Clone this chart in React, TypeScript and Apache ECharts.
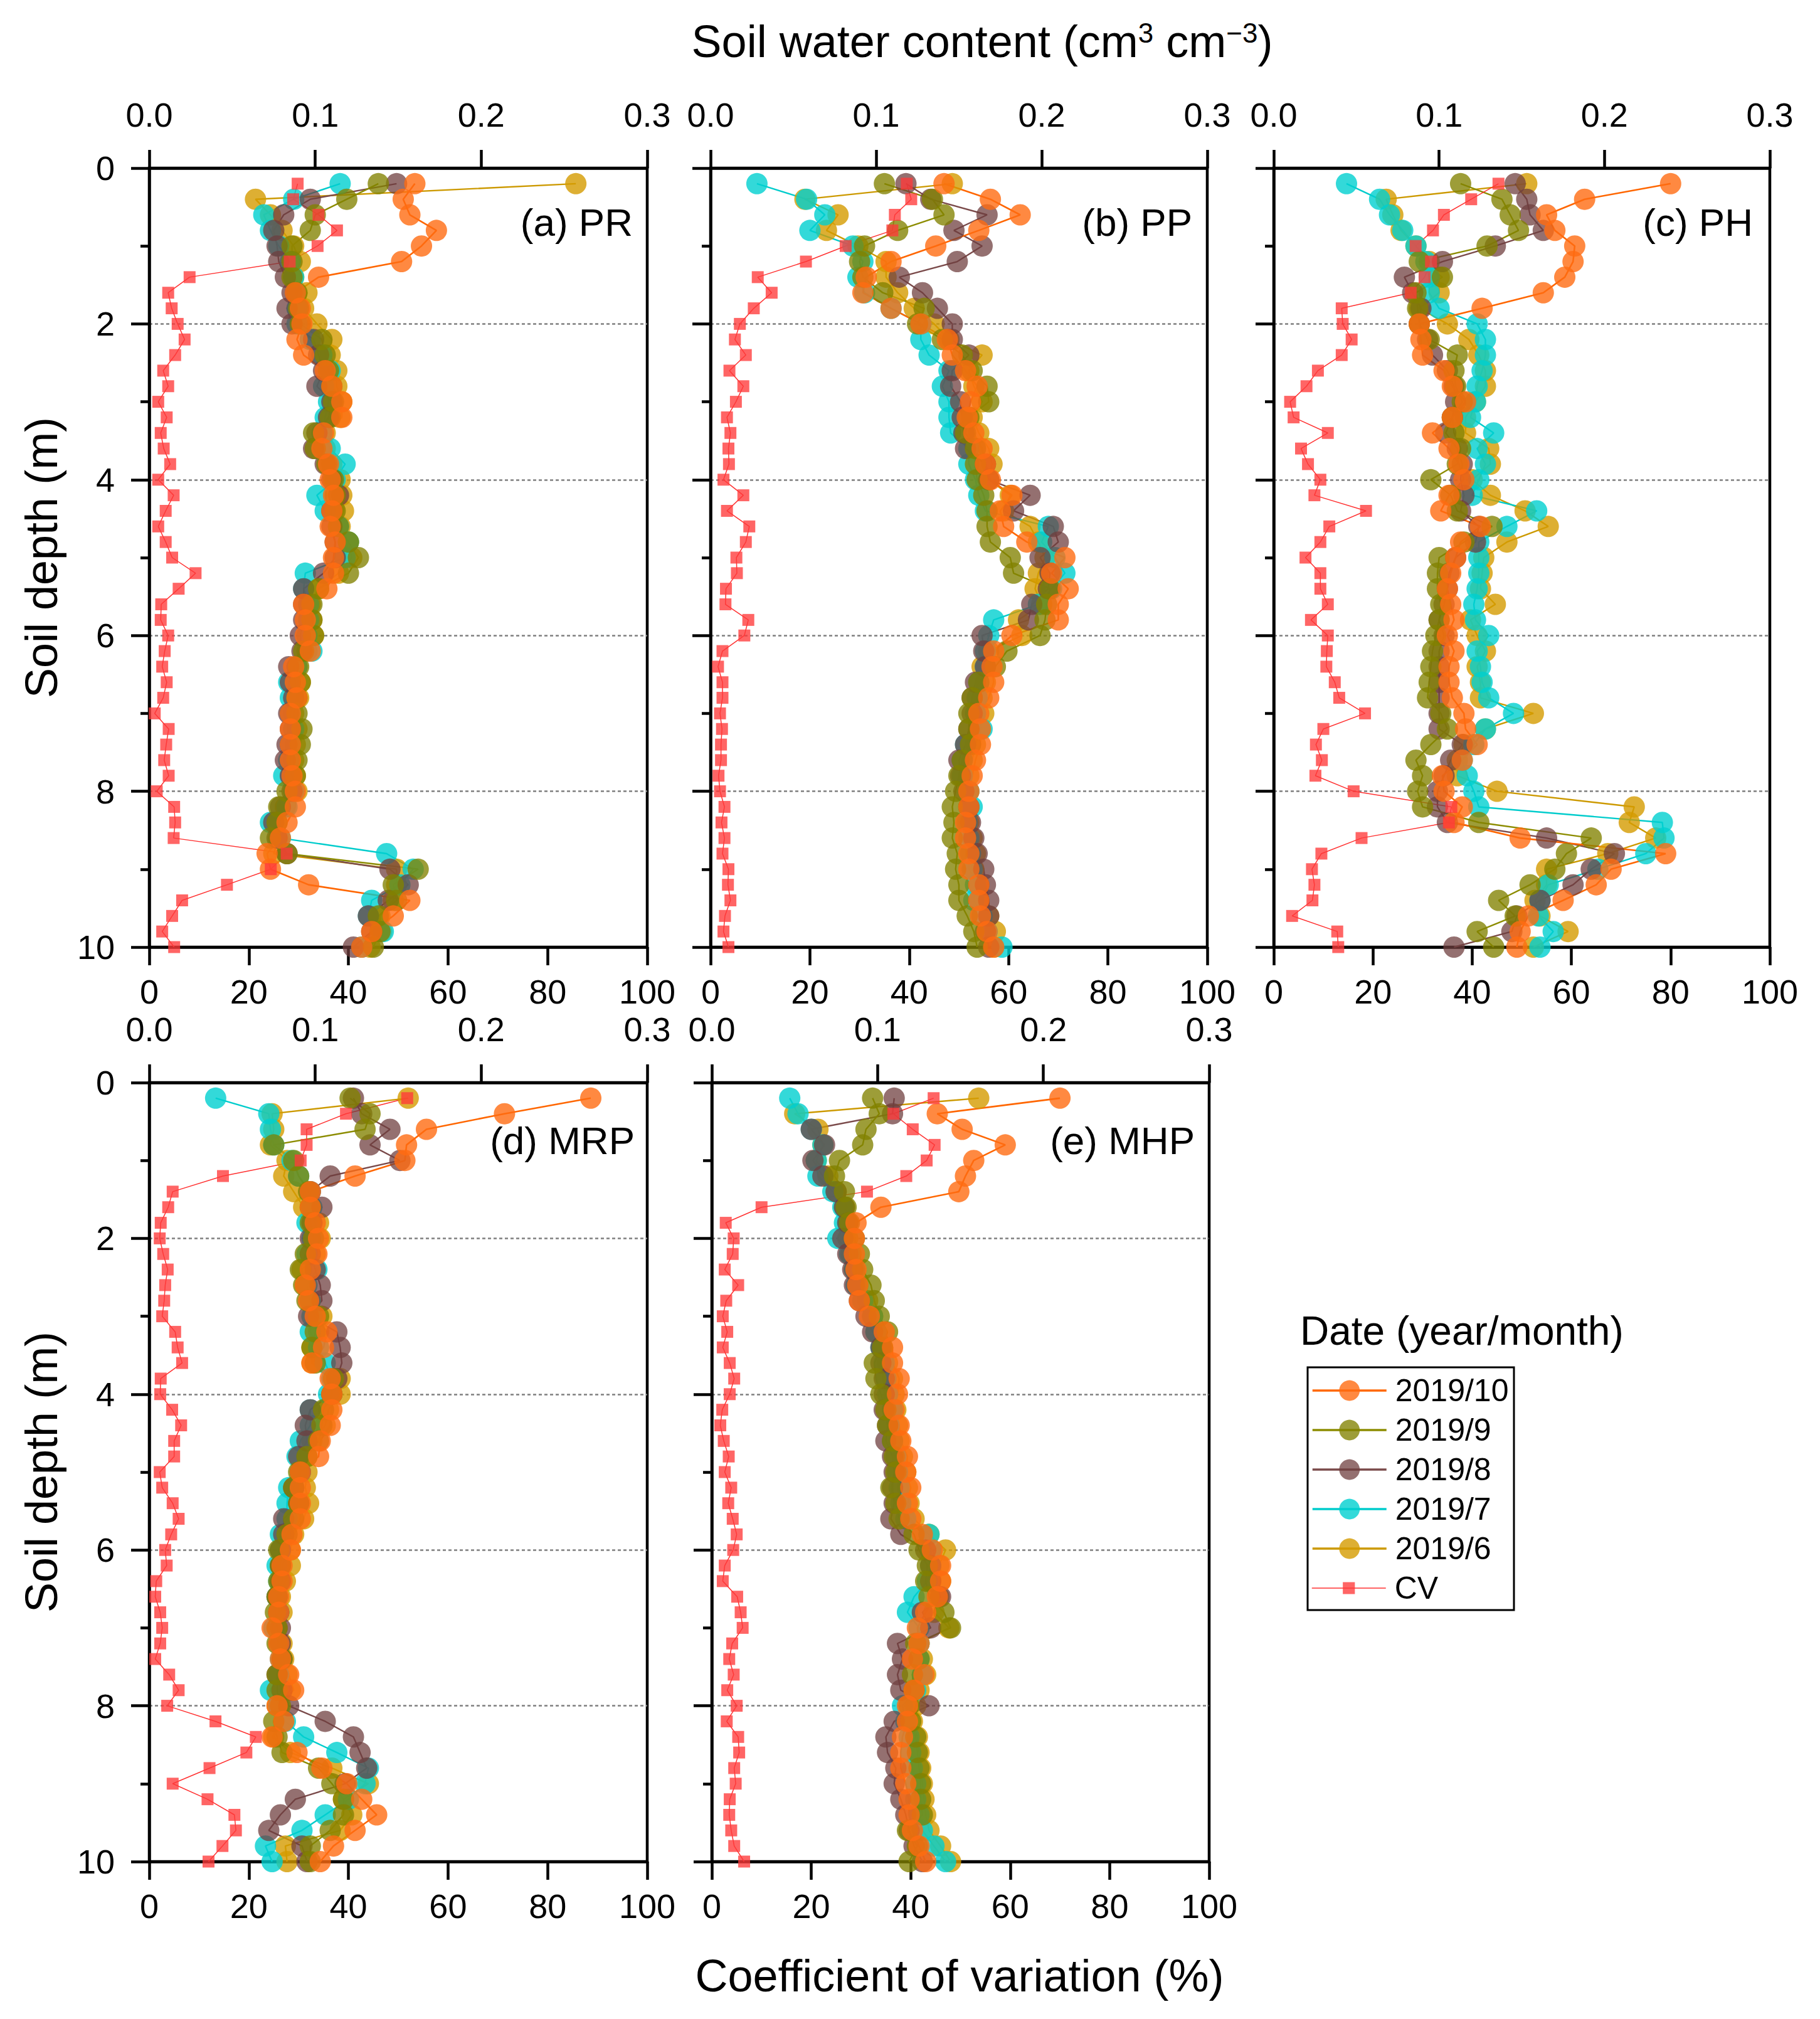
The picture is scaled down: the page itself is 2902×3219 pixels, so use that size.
import { useEffect, useRef } from "react";
import * as echarts from "echarts";

// ── Depth steps (m) ───────────────────────────────────────────────────────────
const DEPTHS = [
  0.2, 0.4, 0.6, 0.8, 1.0, 1.2, 1.4, 1.6, 1.8, 2.0,
  2.2, 2.4, 2.6, 2.8, 3.0, 3.2, 3.4, 3.6, 3.8, 4.0,
  4.2, 4.4, 4.6, 4.8, 5.0, 5.2, 5.4, 5.6, 5.8, 6.0,
  6.2, 6.4, 6.6, 6.8, 7.0, 7.2, 7.4, 7.6, 7.8, 8.0,
  8.2, 8.4, 8.6, 8.8, 9.0, 9.2, 9.4, 9.6, 9.8, 10.0,
];

// ── (a) PR ────────────────────────────────────────────────────────────────────
const PR_OCT = [
  0.160, 0.153, 0.157, 0.173, 0.164, 0.152, 0.102, 0.088, 0.091, 0.092,
  0.089, 0.093, 0.106, 0.110, 0.116, 0.116, 0.105, 0.104, 0.108, 0.109,
  0.111, 0.110, 0.109, 0.112, 0.111, 0.111, 0.107, 0.093, 0.094, 0.094,
  0.097, 0.087, 0.088, 0.089, 0.085, 0.085, 0.085, 0.085, 0.086, 0.088,
  0.088, 0.083, 0.079, 0.071, 0.073, 0.096, 0.157, 0.147, 0.134, 0.128,
];
const PR_SEP = [
  0.138, 0.119, 0.100, 0.097, 0.086, 0.086, 0.086, 0.089, 0.090, 0.091,
  0.104, 0.106, 0.108, 0.110, 0.111, 0.109, 0.099, 0.100, 0.107, 0.111,
  0.112, 0.112, 0.114, 0.120, 0.126, 0.120, 0.102, 0.098, 0.098, 0.099,
  0.093, 0.090, 0.091, 0.089, 0.089, 0.092, 0.091, 0.089, 0.088, 0.083,
  0.078, 0.077, 0.073, 0.083, 0.162, 0.147, 0.149, 0.138, 0.139, 0.135,
];
const PR_AUG = [
  0.149, 0.097, 0.081, 0.075, 0.077, 0.078, 0.082, 0.086, 0.083, 0.086,
  0.099, 0.102, 0.105, 0.101, 0.110, 0.108, 0.101, 0.099, 0.106, 0.110,
  0.114, 0.110, 0.110, 0.112, 0.112, 0.105, 0.093, 0.093, 0.093, 0.091,
  0.092, 0.084, 0.085, 0.087, 0.084, 0.085, 0.083, 0.082, 0.085, 0.086,
  0.079, 0.075, 0.077, 0.083, 0.145, 0.156, 0.144, 0.132, 0.134, 0.123,
];
const PR_JUL = [
  0.115, 0.087, 0.069, 0.073, 0.078, 0.085, 0.087, 0.088, 0.089, 0.089,
  0.097, 0.104, 0.109, 0.105, 0.108, 0.106, 0.104, 0.109, 0.118, 0.112,
  0.101, 0.106, 0.114, 0.120, 0.118, 0.094, 0.093, 0.096, 0.096, 0.095,
  0.098, 0.089, 0.084, 0.085, 0.085, 0.087, 0.085, 0.084, 0.081, 0.087,
  0.083, 0.073, 0.079, 0.143, 0.159, 0.151, 0.134, 0.132, 0.141, 0.128,
];
const PR_JUN = [
  0.257, 0.064, 0.073, 0.080, 0.087, 0.091, 0.087, 0.095, 0.093, 0.101,
  0.110, 0.109, 0.113, 0.113, 0.116, 0.115, 0.106, 0.106, 0.110, 0.115,
  0.116, 0.117, 0.115, 0.120, 0.122, 0.114, 0.102, 0.097, 0.098, 0.099,
  0.095, 0.089, 0.091, 0.090, 0.087, 0.089, 0.088, 0.087, 0.088, 0.089,
  0.082, 0.077, 0.078, 0.075, 0.149, 0.149, 0.147, 0.139, 0.140, 0.133,
];
const PR_CV = [
  29.8, 28.9, 34.0, 37.7, 33.8, 28.2, 8.1, 3.8, 4.5, 5.7,
  7.1, 5.2, 2.8, 3.8, 1.8, 3.5, 2.3, 2.9, 4.2, 1.8,
  4.9, 3.3, 1.8, 3.3, 4.6, 9.3, 5.9, 2.4, 2.3, 3.8,
  3.1, 2.6, 3.5, 2.8, 1.1, 3.9, 3.4, 3.0, 3.9, 1.5,
  5.0, 5.2, 4.9, 27.6, 24.4, 15.6, 6.6, 4.6, 2.6, 5.0,
];

// ── (b) PP ────────────────────────────────────────────────────────────────────
const PP_OCT = [
  0.141, 0.169, 0.187, 0.162, 0.136, 0.109, 0.094, 0.092, 0.109, 0.127,
  0.143, 0.146, 0.154, 0.161, 0.157, 0.155, 0.159, 0.164, 0.166, 0.169,
  0.182, 0.175, 0.177, 0.191, 0.214, 0.206, 0.216, 0.210, 0.210, 0.182,
  0.171, 0.170, 0.171, 0.168, 0.162, 0.163, 0.163, 0.160, 0.158, 0.156,
  0.156, 0.154, 0.154, 0.156, 0.156, 0.162, 0.162, 0.163, 0.167, 0.171,
];
const PP_SEP = [
  0.105, 0.134, 0.141, 0.113, 0.093, 0.090, 0.092, 0.104, 0.129, 0.125,
  0.140, 0.152, 0.158, 0.167, 0.168, 0.156, 0.154, 0.160, 0.160, 0.161,
  0.165, 0.167, 0.167, 0.169, 0.181, 0.183, 0.205, 0.203, 0.202, 0.199,
  0.179, 0.172, 0.162, 0.158, 0.156, 0.156, 0.157, 0.152, 0.150, 0.148,
  0.146, 0.147, 0.146, 0.149, 0.148, 0.150, 0.150, 0.155, 0.159, 0.161,
];
const PP_AUG = [
  0.118, 0.133, 0.167, 0.147, 0.164, 0.149, 0.114, 0.128, 0.137, 0.146,
  0.146, 0.156, 0.146, 0.145, 0.151, 0.152, 0.153, 0.154, 0.166, 0.168,
  0.193, 0.183, 0.207, 0.210, 0.199, 0.205, 0.204, 0.194, 0.192, 0.164,
  0.165, 0.166, 0.160, 0.158, 0.158, 0.156, 0.154, 0.150, 0.151, 0.153,
  0.156, 0.157, 0.159, 0.161, 0.165, 0.166, 0.168, 0.168, 0.166, 0.168,
];
const PP_JUL = [
  0.028, 0.058, 0.069, 0.060, 0.086, 0.092, 0.089, 0.093, 0.109, 0.127,
  0.127, 0.132, 0.144, 0.140, 0.144, 0.144, 0.145, 0.156, 0.156, 0.160,
  0.162, 0.166, 0.204, 0.200, 0.208, 0.214, 0.206, 0.198, 0.171, 0.168,
  0.166, 0.166, 0.162, 0.161, 0.160, 0.164, 0.154, 0.152, 0.152, 0.156,
  0.158, 0.155, 0.156, 0.157, 0.158, 0.160, 0.159, 0.164, 0.167, 0.176,
];
const PP_JUN = [
  0.146, 0.057, 0.077, 0.070, 0.089, 0.106, 0.106, 0.113, 0.123, 0.135,
  0.144, 0.164, 0.156, 0.159, 0.164, 0.158, 0.162, 0.168, 0.170, 0.168,
  0.181, 0.177, 0.193, 0.198, 0.202, 0.198, 0.196, 0.200, 0.186, 0.188,
  0.168, 0.164, 0.166, 0.164, 0.165, 0.163, 0.160, 0.158, 0.156, 0.156,
  0.156, 0.156, 0.158, 0.160, 0.159, 0.162, 0.162, 0.168, 0.172, 0.171,
];
const PP_CV = [
  39.5, 40.4, 37.1, 36.6, 27.2, 19.2, 9.5, 12.3, 8.7, 5.9,
  4.9, 7.1, 3.8, 6.6, 5.1, 3.3, 4.0, 3.6, 3.7, 2.6,
  6.6, 3.3, 7.8, 7.1, 5.2, 5.3, 3.1, 3.0, 7.6, 6.8,
  2.4, 1.5, 2.4, 2.4, 1.9, 2.3, 2.1, 2.1, 1.6, 1.9,
  2.8, 2.2, 2.8, 2.4, 3.6, 3.5, 4.0, 2.9, 2.6, 3.6,
];

// ── (c) PH ────────────────────────────────────────────────────────────────────
const PH_OCT = [
  0.240, 0.188, 0.165, 0.170, 0.182, 0.181, 0.176, 0.163, 0.126, 0.088,
  0.089, 0.090, 0.103, 0.108, 0.116, 0.108, 0.096, 0.106, 0.112, 0.115,
  0.106, 0.101, 0.125, 0.113, 0.110, 0.107, 0.105, 0.107, 0.109, 0.105,
  0.109, 0.106, 0.106, 0.108, 0.115, 0.116, 0.123, 0.114, 0.102, 0.103,
  0.114, 0.109, 0.149, 0.237, 0.204, 0.195, 0.175, 0.154, 0.149, 0.147,
];
const PH_SEP = [
  0.113, 0.138, 0.143, 0.148, 0.129, 0.088, 0.102, 0.086, 0.087, 0.088,
  0.094, 0.111, 0.109, 0.110, 0.114, 0.108, 0.109, 0.113, 0.111, 0.095,
  0.107, 0.111, 0.132, 0.115, 0.100, 0.099, 0.099, 0.101, 0.100, 0.098,
  0.096, 0.095, 0.094, 0.093, 0.101, 0.105, 0.095, 0.086, 0.090, 0.087,
  0.090, 0.124, 0.192, 0.177, 0.170, 0.155, 0.136, 0.146, 0.123, 0.133,
];
const PH_AUG = [
  0.146, 0.153, 0.155, 0.163, 0.134, 0.102, 0.079, 0.084, 0.089, 0.088,
  0.093, 0.096, 0.105, 0.109, 0.110, 0.108, 0.104, 0.111, 0.114, 0.113,
  0.115, 0.113, 0.124, 0.122, 0.110, 0.106, 0.105, 0.103, 0.100, 0.103,
  0.100, 0.100, 0.100, 0.100, 0.100, 0.100, 0.114, 0.107, 0.103, 0.099,
  0.099, 0.105, 0.165, 0.206, 0.192, 0.181, 0.161, 0.147, 0.144, 0.109,
];
const PH_JUL = [
  0.044, 0.064, 0.070, 0.078, 0.086, 0.092, 0.094, 0.094, 0.100, 0.123,
  0.128, 0.128, 0.126, 0.123, 0.122, 0.119, 0.133, 0.123, 0.128, 0.124,
  0.120, 0.159, 0.141, 0.124, 0.124, 0.124, 0.123, 0.121, 0.122, 0.130,
  0.123, 0.125, 0.126, 0.130, 0.145, 0.128, 0.121, 0.114, 0.117, 0.121,
  0.124, 0.235, 0.236, 0.225, 0.196, 0.166, 0.161, 0.160, 0.169, 0.161,
];
const PH_JUN = [
  0.153, 0.068, 0.072, 0.077, 0.086, 0.094, 0.100, 0.100, 0.088, 0.105,
  0.118, 0.124, 0.128, 0.128, 0.122, 0.116, 0.116, 0.130, 0.131, 0.120,
  0.131, 0.152, 0.166, 0.141, 0.127, 0.126, 0.125, 0.134, 0.119, 0.123,
  0.128, 0.123, 0.125, 0.125, 0.157, 0.128, 0.115, 0.111, 0.111, 0.135,
  0.218, 0.215, 0.231, 0.202, 0.165, 0.165, 0.158, 0.161, 0.178, 0.157,
];
const PH_CV = [
  45.3, 39.8, 34.3, 32.1, 28.6, 31.7, 30.4, 27.6, 13.7, 13.9,
  15.7, 13.7, 8.9, 6.6, 3.3, 4.0, 10.9, 5.5, 6.9, 9.4,
  8.2, 18.6, 11.2, 9.4, 6.4, 9.4, 9.4, 10.9, 7.5, 10.9,
  10.7, 10.6, 12.3, 13.2, 18.4, 10.0, 8.5, 9.7, 8.4, 16.1,
  35.8, 35.3, 17.7, 9.6, 7.7, 8.2, 7.8, 3.7, 12.8, 13.0,
];

// ── (d) MRP ───────────────────────────────────────────────────────────────────
const MRP_OCT = [
  0.266, 0.214, 0.167, 0.155, 0.154, 0.124, 0.097, 0.097, 0.100, 0.102,
  0.101, 0.097, 0.094, 0.096, 0.100, 0.107, 0.105, 0.098, 0.109, 0.110,
  0.110, 0.109, 0.103, 0.102, 0.091, 0.091, 0.091, 0.091, 0.086, 0.085,
  0.080, 0.080, 0.078, 0.078, 0.074, 0.078, 0.079, 0.084, 0.087, 0.077,
  0.081, 0.074, 0.089, 0.104, 0.119, 0.128, 0.137, 0.124, 0.111, 0.103,
];
const MRP_SEP = [
  0.121, 0.133, 0.130, 0.075, 0.087, 0.090, 0.096, 0.097, 0.097, 0.099,
  0.094, 0.091, 0.093, 0.095, 0.102, 0.100, 0.098, 0.100, 0.111, 0.110,
  0.105, 0.104, 0.102, 0.095, 0.090, 0.087, 0.090, 0.087, 0.083, 0.078,
  0.079, 0.078, 0.077, 0.076, 0.077, 0.077, 0.080, 0.077, 0.077, 0.079,
  0.075, 0.077, 0.080, 0.102, 0.110, 0.117, 0.117, 0.109, 0.097, 0.097,
];
const MRP_AUG = [
  0.123, 0.128, 0.145, 0.133, 0.151, 0.109, 0.097, 0.104, 0.098, 0.097,
  0.097, 0.100, 0.103, 0.104, 0.096, 0.113, 0.115, 0.116, 0.113, 0.110,
  0.097, 0.094, 0.095, 0.090, 0.091, 0.087, 0.090, 0.081, 0.081, 0.079,
  0.079, 0.079, 0.077, 0.078, 0.079, 0.079, 0.080, 0.077, 0.080, 0.084,
  0.106, 0.123, 0.127, 0.131, 0.118, 0.088, 0.079, 0.072, 0.092, 0.095,
];
const MRP_JUL = [
  0.040, 0.072, 0.073, 0.075, 0.086, 0.090, 0.097, 0.098, 0.095, 0.098,
  0.095, 0.101, 0.095, 0.097, 0.098, 0.097, 0.102, 0.106, 0.110, 0.108,
  0.097, 0.097, 0.091, 0.089, 0.091, 0.084, 0.083, 0.083, 0.079, 0.079,
  0.077, 0.078, 0.077, 0.078, 0.075, 0.078, 0.079, 0.078, 0.073, 0.078,
  0.082, 0.093, 0.113, 0.132, 0.130, 0.120, 0.106, 0.092, 0.070, 0.074,
];
const MRP_JUN = [
  0.156, 0.074, 0.075, 0.073, 0.083, 0.081, 0.087, 0.093, 0.102, 0.103,
  0.100, 0.092, 0.094, 0.097, 0.104, 0.102, 0.098, 0.098, 0.115, 0.115,
  0.108, 0.106, 0.098, 0.095, 0.095, 0.094, 0.096, 0.093, 0.087, 0.085,
  0.085, 0.082, 0.079, 0.080, 0.077, 0.080, 0.081, 0.083, 0.085, 0.077,
  0.081, 0.075, 0.085, 0.110, 0.132, 0.117, 0.122, 0.115, 0.082, 0.083,
];
const MRP_CV = [
  51.8, 39.5, 31.6, 31.6, 30.4, 14.8, 4.7, 3.8, 2.3, 2.1,
  2.8, 3.7, 3.2, 3.0, 2.6, 5.2, 5.7, 6.6, 2.3, 2.2,
  4.6, 6.4, 5.0, 5.0, 2.1, 2.6, 4.7, 5.9, 4.4, 3.2,
  3.5, 1.4, 1.2, 2.2, 2.6, 2.2, 1.2, 4.0, 5.9, 3.6,
  13.3, 21.4, 19.5, 12.1, 4.7, 11.7, 17.1, 17.4, 14.7, 11.9,
];

// ── (e) MHP ───────────────────────────────────────────────────────────────────
const MHP_OCT = [
  0.210, 0.136, 0.151, 0.177, 0.158, 0.153, 0.149, 0.102, 0.087, 0.086,
  0.086, 0.087, 0.088, 0.089, 0.095, 0.104, 0.109, 0.109, 0.113, 0.112,
  0.110, 0.113, 0.114, 0.118, 0.117, 0.120, 0.118, 0.120, 0.127, 0.133,
  0.138, 0.138, 0.136, 0.129, 0.124, 0.125, 0.121, 0.128, 0.122, 0.118,
  0.118, 0.115, 0.114, 0.114, 0.117, 0.119, 0.119, 0.121, 0.125, 0.129,
];
const MHP_SEP = [
  0.097, 0.101, 0.093, 0.091, 0.077, 0.074, 0.080, 0.081, 0.083, 0.086,
  0.089, 0.091, 0.096, 0.098, 0.101, 0.106, 0.103, 0.098, 0.099, 0.102,
  0.105, 0.106, 0.109, 0.110, 0.111, 0.108, 0.111, 0.113, 0.122, 0.125,
  0.130, 0.129, 0.131, 0.140, 0.144, 0.123, 0.125, 0.121, 0.122, 0.119,
  0.120, 0.123, 0.124, 0.125, 0.126, 0.126, 0.127, 0.118, 0.124, 0.119,
];
const MHP_AUG = [
  0.110, 0.109, 0.060, 0.068, 0.061, 0.067, 0.075, 0.080, 0.082, 0.079,
  0.082, 0.085, 0.086, 0.089, 0.093, 0.097, 0.102, 0.102, 0.104, 0.104,
  0.104, 0.106, 0.105, 0.109, 0.110, 0.109, 0.110, 0.108, 0.114, 0.129,
  0.132, 0.132, 0.138, 0.127, 0.132, 0.112, 0.115, 0.112, 0.114, 0.131,
  0.110, 0.105, 0.106, 0.111, 0.110, 0.114, 0.117, 0.119, 0.122, 0.127,
];
const MHP_JUL = [
  0.047, 0.052, 0.060, 0.067, 0.063, 0.064, 0.073, 0.079, 0.080, 0.076,
  0.083, 0.086, 0.087, 0.091, 0.097, 0.099, 0.102, 0.104, 0.105, 0.106,
  0.109, 0.107, 0.109, 0.111, 0.112, 0.113, 0.114, 0.117, 0.131, 0.132,
  0.132, 0.130, 0.122, 0.118, 0.125, 0.125, 0.125, 0.127, 0.123, 0.115,
  0.117, 0.119, 0.120, 0.121, 0.123, 0.123, 0.125, 0.127, 0.134, 0.141,
];
const MHP_JUN = [
  0.161, 0.050, 0.064, 0.067, 0.063, 0.070, 0.075, 0.080, 0.082, 0.082,
  0.084, 0.086, 0.088, 0.094, 0.097, 0.099, 0.103, 0.106, 0.109, 0.110,
  0.111, 0.112, 0.113, 0.115, 0.117, 0.118, 0.119, 0.122, 0.131, 0.141,
  0.137, 0.138, 0.137, 0.134, 0.143, 0.125, 0.127, 0.129, 0.125, 0.123,
  0.121, 0.124, 0.125, 0.126, 0.127, 0.128, 0.129, 0.131, 0.138, 0.144,
];
const MHP_CV = [
  44.6, 36.5, 40.4, 44.8, 43.2, 39.1, 31.2, 10.0, 2.8, 4.4,
  4.2, 2.6, 5.3, 2.9, 2.2, 3.1, 2.2, 3.6, 4.5, 3.6,
  2.1, 1.7, 2.4, 3.4, 2.6, 3.9, 3.3, 4.2, 5.0, 4.3,
  2.6, 2.2, 5.1, 5.8, 6.2, 4.1, 3.5, 4.4, 3.1, 5.0,
  3.0, 5.3, 5.5, 4.5, 4.8, 3.6, 3.5, 3.9, 4.5, 6.5,
];

// ── Labels ────────────────────────────────────────────────────────────────────
const DATE_LABELS = ["2019/10", "2019/9", "2019/8", "2019/7", "2019/6"];
const PANEL_LABELS = ["(a) PR", "(b) PP", "(c) PH", "(d) MRP", "(e) MHP"];

type Panel = { oct: number[]; sep: number[]; aug: number[]; jul: number[]; jun: number[]; cv: number[] };
const PANELS: Panel[] = [
  { oct: PR_OCT, sep: PR_SEP, aug: PR_AUG, jul: PR_JUL, jun: PR_JUN, cv: PR_CV },
  { oct: PP_OCT, sep: PP_SEP, aug: PP_AUG, jul: PP_JUL, jun: PP_JUN, cv: PP_CV },
  { oct: PH_OCT, sep: PH_SEP, aug: PH_AUG, jul: PH_JUL, jun: PH_JUN, cv: PH_CV },
  { oct: MRP_OCT, sep: MRP_SEP, aug: MRP_AUG, jul: MRP_JUL, jun: MRP_JUN, cv: MRP_CV },
  { oct: MHP_OCT, sep: MHP_SEP, aug: MHP_AUG, jul: MHP_JUL, jun: MHP_JUN, cv: MHP_CV },
];

// ── Layout / style ────────────────────────────────────────────────────────────
const W = 2902;
const H = 3219;
const FONT = '"Liberation Sans", Arial, Helvetica, sans-serif';
const AXIS_W = 4.5;

const GRIDS = [
  { left: 238, top: 268, width: 794, height: 1242 },
  { left: 1133, top: 268, width: 792, height: 1242 },
  { left: 2031, top: 268, width: 791, height: 1242 },
  { left: 238, top: 1726, width: 794, height: 1242 },
  { left: 1135, top: 1726, width: 793, height: 1242 },
];
const SHOW_Y_LABELS = [true, false, false, true, false];
const PANEL_LABEL_POS = [
  [1009, 354], [1901, 354], [2795, 354], [1012, 1818], [1905, 1818],
];

const SERIES_STYLE: Record<string, { fill: string; line: string; width: number }> = {
  "2019/10": { fill: "rgba(255,108,18,0.8)", line: "#FF6600", width: 2.6 },
  "2019/9": { fill: "rgba(130,130,0,0.78)", line: "#8C8C00", width: 2.4 },
  "2019/8": { fill: "rgba(110,62,62,0.74)", line: "#7A4A4A", width: 2.4 },
  "2019/7": { fill: "rgba(0,208,208,0.8)", line: "#00CCCC", width: 2.4 },
  "2019/6": { fill: "rgba(212,155,0,0.8)", line: "#CC9900", width: 2.4 },
  CV: { fill: "rgba(255,58,58,0.78)", line: "#FF3030", width: 1.5 },
};

// draw order: earliest month first, latest on top
const DRAW_ORDER: [string, keyof Panel][] = [
  ["2019/6", "jun"], ["2019/7", "jul"], ["2019/8", "aug"], ["2019/9", "sep"], ["2019/10", "oct"],
];

const BLACK_LINE = { color: "#000", width: AXIS_W };
const TICK_TEXT = { fontSize: 54, color: "#000", fontFamily: FONT };

function buildOption() {
  const xAxis: object[] = [];
  GRIDS.forEach((_, i) => {
    xAxis.push({
      type: "value", gridIndex: i, position: "top", min: 0, max: 0.3, interval: 0.1,
      axisLine: { show: true, onZero: false, lineStyle: BLACK_LINE },
      axisTick: { show: true, inside: false, length: 29, lineStyle: BLACK_LINE },
      axisLabel: { ...TICK_TEXT, margin: 58, formatter: (v: number) => v.toFixed(1) },
      splitLine: { show: false },
    });
    xAxis.push({
      type: "value", gridIndex: i, position: "bottom", min: 0, max: 100, interval: 20,
      axisLine: { show: true, onZero: false, lineStyle: BLACK_LINE },
      axisTick: { show: true, inside: false, length: 29, lineStyle: BLACK_LINE },
      axisLabel: { ...TICK_TEXT, margin: 44 },
      splitLine: { show: false },
    });
  });

  const yAxis = GRIDS.map((_, i) => ({
    type: "value", gridIndex: i, inverse: true, min: 0, max: 10, interval: 2,
    axisLine: { show: true, onZero: false, lineStyle: BLACK_LINE },
    axisTick: { show: true, inside: false, length: 29, lineStyle: BLACK_LINE },
    minorTick: { show: true, splitNumber: 2, length: 14, lineStyle: BLACK_LINE },
    axisLabel: { ...TICK_TEXT, show: SHOW_Y_LABELS[i], margin: 55 },
    splitLine: {
      show: true, showMinLine: false, showMaxLine: false,
      lineStyle: { color: "#808080", width: 2.5, type: [5, 4] },
    },
    minorSplitLine: { show: false },
  }));

  const series: object[] = [];
  PANELS.forEach((p, i) => {
    DRAW_ORDER.forEach(([name, key]) => {
      const s = SERIES_STYLE[name];
      series.push({
        name, type: "line", xAxisIndex: 2 * i, yAxisIndex: i,
        data: DEPTHS.map((d, k) => [p[key][k], d]),
        symbol: "circle", symbolSize: 34, silent: true,
        itemStyle: { color: s.fill, borderWidth: 0 },
        lineStyle: { color: s.line, width: s.width },
        emphasis: { disabled: true },
      });
    });
    const c = SERIES_STYLE.CV;
    series.push({
      name: "CV", type: "line", xAxisIndex: 2 * i + 1, yAxisIndex: i,
      data: DEPTHS.map((d, k) => [p.cv[k], d]),
      symbol: "rect", symbolSize: 19, silent: true,
      itemStyle: { color: c.fill, borderWidth: 0 },
      lineStyle: { color: c.line, width: c.width },
      emphasis: { disabled: true },
    });
  });

  const legendText = { fontSize: 50, color: "#000", fontFamily: FONT, padding: [0, 0, 0, 9] };

  const graphic: object[] = [
    {
      type: "text", x: 1566, y: 66,
      style: {
        text: "Soil water content (cm{sup|3} cm{sup|\u22123})",
        fontSize: 72, fontFamily: FONT, fill: "#000", align: "center", verticalAlign: "middle",
        rich: { sup: { fontSize: 44, fontFamily: FONT, fill: "#000", verticalAlign: "top" } },
      },
    },
    {
      type: "text", x: 1530, y: 3150,
      style: { text: "Coefficient of variation (%)", fontSize: 72, fontFamily: FONT, fill: "#000", align: "center", verticalAlign: "middle" },
    },
    {
      type: "text", x: 66, y: 889, rotation: Math.PI / 2,
      style: { text: "Soil depth (m)", fontSize: 72, fontFamily: FONT, fill: "#000", align: "center", verticalAlign: "middle" },
    },
    {
      type: "text", x: 66, y: 2347, rotation: Math.PI / 2,
      style: { text: "Soil depth (m)", fontSize: 72, fontFamily: FONT, fill: "#000", align: "center", verticalAlign: "middle" },
    },
    {
      type: "text", x: 2073, y: 2122,
      style: { text: "Date (year/month)", fontSize: 64, fontFamily: FONT, fill: "#000", align: "left", verticalAlign: "middle" },
    },
    {
      type: "rect", shape: { x: 2085, y: 2180, width: 329, height: 387 },
      style: { fill: "transparent", stroke: "#000", lineWidth: 3 },
    },
    ...PANEL_LABELS.map((t, i) => ({
      type: "text", x: PANEL_LABEL_POS[i][0], y: PANEL_LABEL_POS[i][1],
      style: { text: t, fontSize: 62, fontFamily: FONT, fill: "#000", align: "right", verticalAlign: "middle" },
    })),
  ];

  return {
    animation: false,
    backgroundColor: "#ffffff",
    textStyle: { fontFamily: FONT },
    grid: GRIDS.map((g) => ({ ...g, show: true, borderColor: "#000", borderWidth: AXIS_W, backgroundColor: "transparent" })),
    xAxis,
    yAxis,
    legend: [
      {
        data: DATE_LABELS, orient: "vertical", left: 2091, top: 2192, padding: 0,
        itemWidth: 118, itemHeight: 41, itemGap: 13, selectedMode: false,
        textStyle: legendText, lineStyle: { width: 3.5 },
      },
      {
        data: ["CV"], orient: "vertical", left: 2091, top: 2507, padding: 0,
        itemWidth: 118, itemHeight: 24, selectedMode: false,
        textStyle: legendText, lineStyle: { width: 1.5 },
      },
    ],
    graphic,
    series,
  };
}

export default function App() {
  const ref = useRef<HTMLDivElement>(null);

  useEffect(() => {
    const el = ref.current;
    if (!el) return;
    const chart = echarts.init(el, null, { renderer: "svg" });
    chart.setOption(buildOption());
    return () => { chart.dispose(); };
  }, []);

  return (
    <div
      ref={ref}
      style={{ position: "absolute", left: 0, top: 0, width: W, height: H, background: "#fff" }}
    />
  );
}
